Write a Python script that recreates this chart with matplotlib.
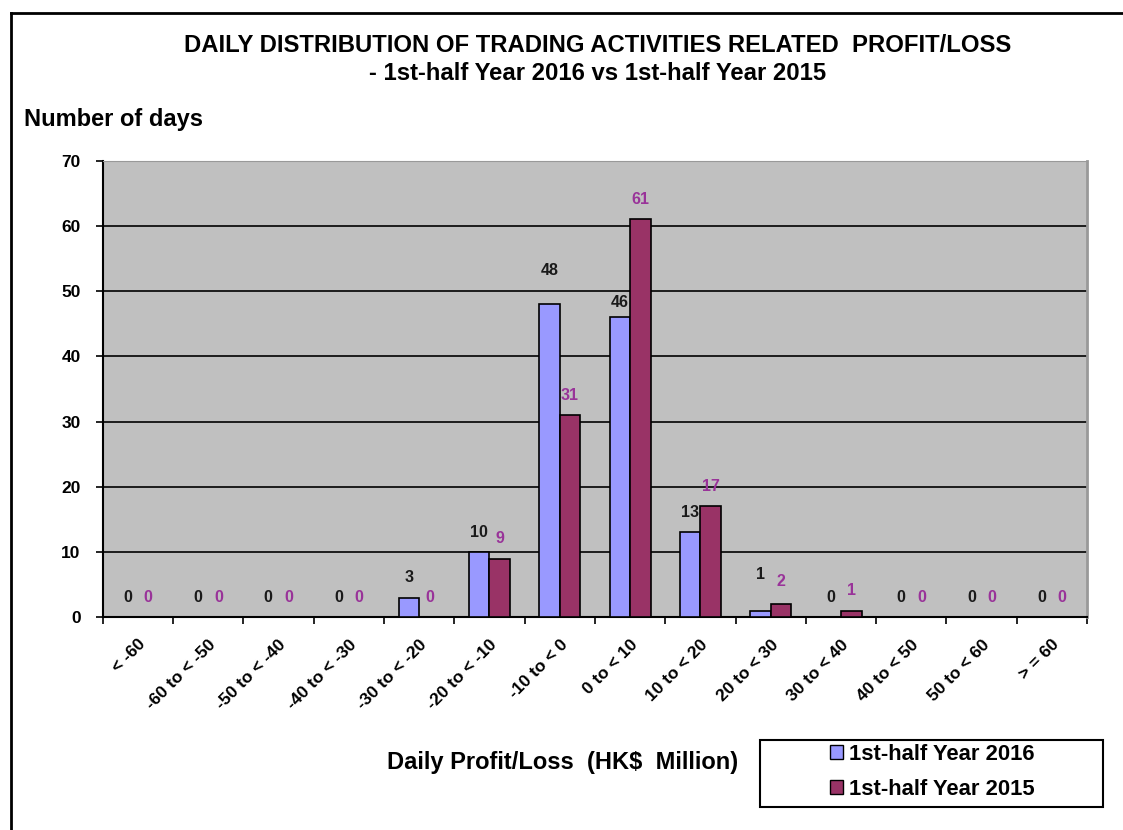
import numpy as np
import matplotlib
matplotlib.use("Agg")
import matplotlib.pyplot as plt
from matplotlib.lines import Line2D
from matplotlib.patches import Patch, Rectangle

plt.rcParams['font.family'] = ['Liberation Sans', 'DejaVu Sans']

categories = ["< -60", "-60 to < -50", "-50 to < -40", "-40 to < -30", "-30 to < -20",
              "-20 to < -10", "-10 to < 0", "0 to < 10", "10 to < 20", "20 to < 30",
              "30 to < 40", "40 to < 50", "50 to < 60", "> = 60"]
days_2016 = [0, 0, 0, 0, 3, 10, 48, 46, 13, 1, 0, 0, 0, 0]
days_2015 = [0, 0, 0, 0, 0, 9, 31, 61, 17, 2, 1, 0, 0, 0]
series_names = ["1st-half Year 2016", "1st-half Year 2015"]

# label offsets (pixels above bar top), Excel placed a few oddly
off_2016 = {6: 34, 7: 15, 9: 36}
off_2015 = {9: 23}

fig = plt.figure(figsize=(11.23, 8.30), dpi=100)
ax = fig.add_axes([0.0915, 0.2563, 0.8765, 0.5501])

x = np.arange(len(categories))
w = 0.292
ax.set_facecolor('#C0C0C0')
ax.bar(x - w / 2, days_2016, w, color='#9999FF', edgecolor='black', linewidth=1.2, zorder=3)
ax.bar(x + w / 2, days_2015, w, color='#993366', edgecolor='black', linewidth=1.2, zorder=3)

ax.set_xlim(-0.5, len(categories) - 0.5)
ax.set_ylim(0, 70)
ax.set_yticks(range(0, 71, 10))
for v in range(10, 70, 10):
    ax.axhline(v, color='black', linewidth=1.2, zorder=1)

ax.set_xticks(x)
ax.set_xticklabels(categories, rotation=45, ha='right', rotation_mode='anchor',
                   fontsize=12.5, fontweight='bold')
ax.set_xticks(np.arange(-0.5, len(categories), 1), minor=True)
ax.tick_params(axis='x', which='major', length=0, pad=14)
ax.tick_params(axis='x', which='minor', length=5, width=1.2, direction='out')
ax.tick_params(axis='y', length=5, width=1.2, direction='out', pad=11)
for t in ax.get_yticklabels():
    t.set_fontweight('bold')
    t.set_fontsize(12.5)

ax.spines['left'].set_color('black')
ax.spines['left'].set_linewidth(1.5)
ax.spines['bottom'].set_color('black')
ax.spines['bottom'].set_linewidth(1.5)
ax.spines['top'].set_color('#999999')
ax.spines['right'].set_color('#999999')
ax.spines['right'].set_linewidth(2)

for i, v in enumerate(days_2016):
    ax.annotate(str(v), (x[i] - w / 2, v), xytext=(0, off_2016.get(i, 20) * 0.72),
                textcoords='offset points', ha='center', va='center',
                fontsize=11.5, fontweight='bold', color='#1a1a1a')
for i, v in enumerate(days_2015):
    ax.annotate(str(v), (x[i] + w / 2, v), xytext=(0, off_2015.get(i, 20) * 0.72),
                textcoords='offset points', ha='center', va='center',
                fontsize=11.5, fontweight='bold', color='#993399')

fig.text(0.532, 0.945, "DAILY DISTRIBUTION OF TRADING ACTIVITIES RELATED  PROFIT/LOSS",
         ha='center', va='center', fontsize=17.2, fontweight='bold')
fig.text(0.532, 0.912, "- 1st-half Year 2016 vs 1st-half Year 2015",
         ha='center', va='center', fontsize=17.2, fontweight='bold')
fig.text(0.021, 0.856, "Number of days", ha='left', va='center', fontsize=17, fontweight='bold')
fig.text(0.501, 0.081, "Daily Profit/Loss  (HK$  Million)", ha='center', va='center',
         fontsize=17, fontweight='bold')

# legend box drawn wide like the original, entries centered inside
fig.add_artist(Rectangle((760 / 1123, 1 - 807 / 830), 343 / 1123, 67 / 830,
                         transform=fig.transFigure, facecolor='white',
                         edgecolor='black', linewidth=1.5))
handles = [Patch(facecolor='#9999FF', edgecolor='black'),
           Patch(facecolor='#993366', edgecolor='black')]
leg = fig.legend(handles, series_names, loc='center',
                 bbox_to_anchor=(932 / 1123, 1 - 772 / 830), frameon=False,
                 prop={'size': 15.8, 'weight': 'bold'},
                 handlelength=0.6, handleheight=0.6, handletextpad=0.25,
                 labelspacing=0.65, borderpad=0.2)

# outer chart border (top and left only visible)
fig.add_artist(Line2D([0.0098, 1.0], [0.984, 0.984], color='black', linewidth=2,
                      transform=fig.transFigure))
fig.add_artist(Line2D([0.0098, 0.0098], [0.0, 0.984], color='black', linewidth=2,
                      transform=fig.transFigure))

fig.savefig("out.png", dpi=100)
